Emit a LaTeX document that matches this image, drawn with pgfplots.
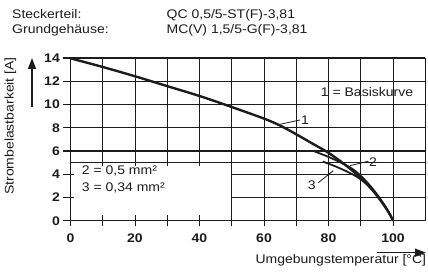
\documentclass[border=0pt]{standalone}
\usepackage{fontspec}
\setmainfont{Liberation Sans}[FakeStretch=1.12]
\usepackage{pgfplots}
\pgfplotsset{compat=1.18}
\usetikzlibrary{arrows.meta}
\definecolor{ink}{HTML}{1C1C1C}
\begin{document}
\fontsize{12.5}{15}\selectfont
\begin{tikzpicture}
\begin{axis}[
  at={(0,0)}, anchor=south west,
  scale only axis, width=354.75pt, height=162.4pt,
  xmin=0, xmax=110, ymin=0, ymax=14,
  axis line style={draw=none},
  major tick length=0pt,
  xtick={0,20,...,100}, ytick={0,2,...,14},
  xticklabel style={anchor=base, inner sep=0pt, yshift=-22pt, font=\bfseries, text=ink},
  yticklabel style={anchor=east, inner sep=0pt, xshift=-10.5pt, font=\bfseries, text=ink},
  /pgf/number format/assume math mode=true,
  clip=false,
]
% horizontal grid lines
\draw[ink, line width=1.6pt] (axis cs:-2.2,14) -- (axis cs:110,14);
\draw[ink, line width=1.6pt] (axis cs:-2.2,12) -- (axis cs:110,12);
\draw[ink, line width=1.1pt] (axis cs:-2.2,10) -- (axis cs:110,10);
\draw[ink, line width=1.1pt] (axis cs:-2.2,8) -- (axis cs:110,8);
\draw[ink, line width=1.6pt] (axis cs:-2.2,6) -- (axis cs:110,6);
\draw[ink, line width=1.1pt] (axis cs:0,5) -- (axis cs:110,5);
\draw[ink, line width=1.1pt] (axis cs:-2.2,4) -- (axis cs:1.2,4);
\draw[ink, line width=1.1pt] (axis cs:50,4) -- (axis cs:110,4);
\draw[ink, line width=1.1pt] (axis cs:-2.2,2) -- (axis cs:1.2,2);
\draw[ink, line width=1.1pt] (axis cs:50,2) -- (axis cs:110,2);
\draw[ink, line width=1.6pt] (axis cs:-2.2,0) -- (axis cs:110,0);
% vertical grid lines
\draw[ink, line width=1.1pt] (axis cs:0,-0.5) -- (axis cs:0,14);
\draw[ink, line width=1.0pt] (axis cs:10,4.7) -- (axis cs:10,14);
\draw[ink, line width=1.0pt] (axis cs:20,4.7) -- (axis cs:20,14);
\draw[ink, line width=1.0pt] (axis cs:30,4.7) -- (axis cs:30,14);
\draw[ink, line width=1.0pt] (axis cs:40,4.7) -- (axis cs:40,14);
\draw[ink, line width=1.0pt] (axis cs:10,-0.5) -- (axis cs:10,0.5);
\draw[ink, line width=1.0pt] (axis cs:20,-0.5) -- (axis cs:20,0.5);
\draw[ink, line width=1.0pt] (axis cs:30,-0.5) -- (axis cs:30,0.5);
\draw[ink, line width=1.0pt] (axis cs:40,-0.5) -- (axis cs:40,0.5);
\draw[ink, line width=1.0pt] (axis cs:50,-0.5) -- (axis cs:50,14);
\draw[ink, line width=1.0pt] (axis cs:60,-0.5) -- (axis cs:60,14);
\draw[ink, line width=1.0pt] (axis cs:70,-0.5) -- (axis cs:70,14);
\draw[ink, line width=1.0pt] (axis cs:80,-0.5) -- (axis cs:80,14);
\draw[ink, line width=1.0pt] (axis cs:90,-0.5) -- (axis cs:90,14);
\draw[ink, line width=1.0pt] (axis cs:100,-0.5) -- (axis cs:100,14);
\draw[ink, line width=1.2pt] (axis cs:110,0) -- (axis cs:110,14);
% curves
\addplot[ink, line width=2.4pt, smooth, tension=0.55] coordinates {
  (0,14) (10,13.25) (20,12.45) (30,11.6) (40,10.75) (50,9.8) (60,8.8)
  (65,8.2) (70,7.45) (75,6.65) (80,5.85) (85,4.85) (90,3.7)
  (93,2.85) (96,1.8) (98,1.0) (99.3,0.4) (100,0)};
\addplot[ink, line width=1.8pt, smooth, tension=0.5] coordinates {
  (75.4,6.0) (80,5.5) (85,4.85) (88,4.35) (91,3.6) (94,2.65) (97,1.5)
  (99,0.6) (100,0)};
\addplot[ink, line width=1.8pt, smooth, tension=0.5] coordinates {
  (78.2,5.1) (82,4.7) (86,4.2) (89,3.75) (92,3.1) (95,2.2) (97.5,1.25)
  (99.2,0.45) (100,0)};
\end{axis}
% header texts
\node[anchor=base west, inner sep=0pt, text=ink] at (-58.5pt,202.2pt) {Steckerteil:};
\node[anchor=base west, inner sep=0pt, text=ink] at (-58.5pt,187.4pt) {Grundgehäuse:};
\node[anchor=base west, inner sep=0pt, text=ink] at (96pt,202.2pt) {QC 0,5/5-ST(F)-3,81};
\node[anchor=base west, inner sep=0pt, text=ink] at (96pt,187.4pt) {MC(V) 1,5/5-G(F)-3,81};
% axis labels and arrows
\node[rotate=90, inner sep=0pt, text=ink] at (-60pt,94.7pt) {Strombelastbarkeit [A]};
\draw[ink, line width=1.5pt, -{Triangle[length=11pt,width=8pt]}] (-38.5pt,113.7pt) -- (-38.5pt,162.7pt);
\node[anchor=base east, inner sep=0pt, text=ink] at (355.8pt,-43.3pt) {Umgebungstemperatur [°C]};
\draw[ink, line width=1.5pt, -{Triangle[length=11pt,width=8pt]}] (306.5pt,-32pt) -- (355.5pt,-32pt);
% annotations
\node[anchor=base, inner sep=0pt, text=ink] at (296.5pt,124pt) {1 = Basiskurve};
\node[anchor=base west, inner sep=0pt, text=ink] at (11.2pt,46.2pt) {2 = 0,5 mm²};
\node[anchor=base west, inner sep=0pt, text=ink] at (11.2pt,28.7pt) {3 = 0,34 mm²};
\draw[ink, line width=0.8pt] (209.5pt,96.4pt) -- (229.5pt,100.7pt);
\node[inner sep=0pt, text=ink] at (234.5pt,100.7pt) {1};
\draw[ink, line width=0.8pt] (279.5pt,55pt) -- (298pt,59.5pt);
\node[inner sep=0pt, text=ink] at (302.5pt,59pt) {2};
\draw[ink, line width=0.8pt] (247.8pt,38pt) -- (262.8pt,50pt);
\node[inner sep=0pt, text=ink] at (241.2pt,35pt) {3};
% bounding box
\pgfresetboundingbox
\useasboundingbox (-70.5pt,-59.3pt) rectangle (357.5pt,220.7pt);
\end{tikzpicture}
\end{document}
